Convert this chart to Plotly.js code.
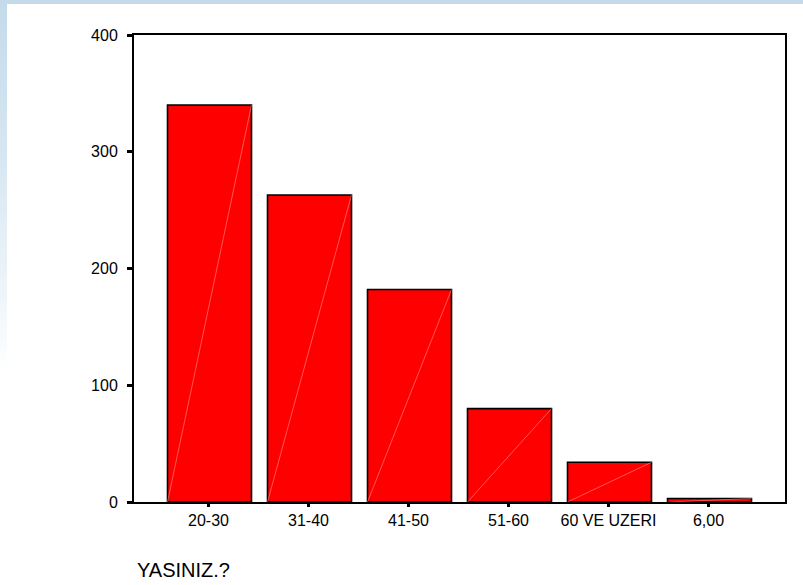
<!DOCTYPE html>
<html>
<head>
<meta charset="utf-8">
<script src="https://cdn.plot.ly/plotly-3.0.1.min.js"></script>
<style>
  html, body { margin:0; padding:0; width:803px; height:585px; overflow:hidden;
    background: linear-gradient(to bottom, #c4daea 0%, #d8e7f2 28%, #f0f6fb 52%, #ffffff 64%); }
  #chart { position:absolute; left:7px; top:4px; width:796px; height:581px; background:#fff; }
</style>
</head>
<body>
<div id="chart"></div>
<script>
// Data
const categories = ["20-30", "31-40", "41-50", "51-60", "60 VE UZERI", "6,00"];
const counts = [340, 263, 182, 80, 34, 3];
const yTicks = [0, 100, 200, 300, 400];
const xTitle = "YASINIZ.?";

const positions = categories.map((c, i) => i);
const barWidth = 0.84;

// faint diagonal artifacts inside each bar (bottom-left to top-right)
const diagX = [], diagY = [];
positions.forEach((p, i) => {
  diagX.push(p - barWidth / 2, p + barWidth / 2, null);
  diagY.push(0, counts[i], null);
});

const traces = [
  {
    type: "bar",
    x: positions,
    y: counts,
    width: barWidth,
    offset: -barWidth / 2 + 0.01,
    marker: { color: "#ff0000", line: { color: "#000000", width: 1.6 } },
    hoverinfo: "skip"
  },
  {
    type: "scatter",
    mode: "lines",
    x: diagX.map(v => v === null ? null : v + 0.01),
    y: diagY,
    line: { color: "rgba(255,170,170,0.5)", width: 1 },
    hoverinfo: "skip",
    showlegend: false
  }
];

const layout = {
  width: 796,
  height: 581,
  margin: { l: 127, r: 18, t: 30.5, b: 83, pad: 0 },
  paper_bgcolor: "#ffffff",
  plot_bgcolor: "#ffffff",
  showlegend: false,
  font: { family: "Liberation Sans, Arial, sans-serif", color: "#000000", size: 16 },
  xaxis: {
    range: [-0.745, 5.765],
    tickmode: "array",
    tickvals: positions,
    ticktext: categories,
    ticks: "outside",
    ticklen: 3,
    tickwidth: 3,
    tickcolor: "#000",
    showline: true,
    linecolor: "#000",
    linewidth: 2,
    mirror: true,
    showgrid: false,
    zeroline: false,
    tickfont: { size: 16 },
    fixedrange: true
  },
  yaxis: {
    range: [0, 400],
    tickmode: "array",
    tickvals: yTicks,
    ticktext: yTicks.map(String),
    ticks: "outside",
    ticklen: 5,
    tickwidth: 3,
    tickcolor: "#000",
    showline: true,
    linecolor: "#000",
    linewidth: 2,
    mirror: true,
    showgrid: false,
    zeroline: false,
    tickfont: { size: 16 },
    ticklabelstandoff: 6,
    fixedrange: true
  },
  annotations: [
    {
      text: xTitle,
      xref: "paper", yref: "paper",
      x: 0.0015, y: -0.145,
      xanchor: "left", yanchor: "middle",
      showarrow: false,
      font: { size: 20, color: "#000" }
    }
  ]
};

Plotly.newPlot("chart", traces, layout, { staticPlot: true, displayModeBar: false });
</script>
</body>
</html>
